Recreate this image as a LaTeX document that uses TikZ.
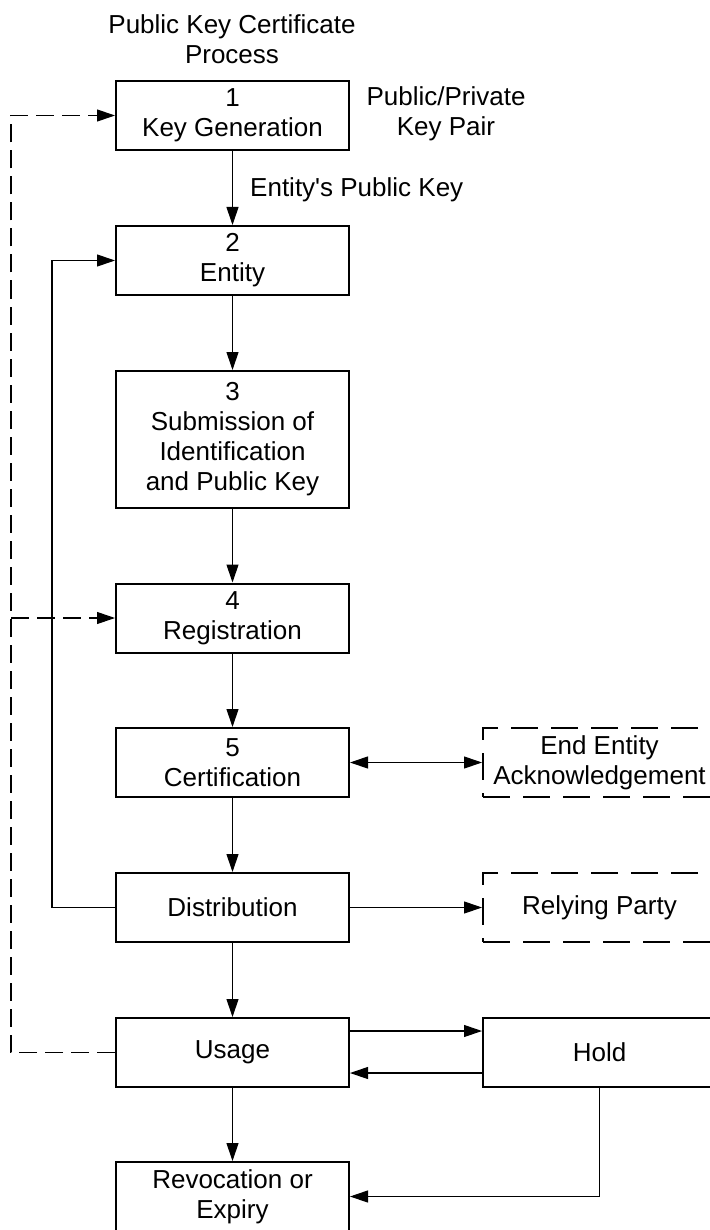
\documentclass[tikz,border=0pt]{standalone}
\usepackage{fontspec}
\setmainfont{Liberation Sans}
\usetikzlibrary{arrows.meta}
\begin{document}
\begin{tikzpicture}[x=1pt,y=-1pt,
  box/.style={draw, line width=2pt, minimum width=233pt, minimum height=69pt,
    inner sep=0pt, align=center, font=\fontsize{26}{30}\selectfont},
  tallbox/.style={box, minimum height=137pt},
  dbox/.style={box, dash pattern=on 27pt off 13pt},
  lbl/.style={align=center, inner sep=0pt, font=\fontsize{26}{30}\selectfont},
  conn/.style={line width=1.1pt, -{Triangle[length=18pt,width=12pt]}},
  dconn/.style={conn, dash pattern=on 18pt off 8pt}
]
\useasboundingbox (0,0) rectangle (709,1230);

% main process column
\node[box] (k1) at (232.5,115.5) {1\\Key Generation};
\node[box] (k2) at (232.5,260.5) {2\\Entity};
\node[tallbox] (k3) at (232.5,439.5) {3\\Submission of\\Identification\\and Public Key};
\node[box] (k4) at (232.5,618) {4\\Registration};
\node[box] (k5) at (232.5,762.5) {5\\Certification};
\node[box] (dist) at (232.5,907.5) {Distribution};
\node[box] (use) at (232.5,1052.5) {Usage};
\node[box] (rev) at (232.5,1196.5) {Revocation or\\Expiry};

% side boxes
\node[dbox] (ack) at (599.5,762.5) {End Entity\\Acknowledgement};
\node[dbox] (rely) at (599.5,907.5) {Relying Party};
\node[box] (hold) at (599.5,1052.5) {Hold};

% labels
\node[lbl] (title) at (232,39) {Public Key Certificate\\Process};
\node[lbl] (pair) at (446,114) {Public/Private\\Key Pair};
\node[lbl, anchor=west] (pk) at (250,190) {Entity\textquotesingle s Public Key};

% return rails
\coordinate (dl) at (11,0);
\coordinate (sl) at (52,0);

% main flow
\draw[conn] (k1) -- (k2);
\draw[conn] (k2) -- (k3);
\draw[conn] (k3) -- (k4);
\draw[conn] (k4) -- (k5);
\draw[conn] (k5) -- (dist);
\draw[conn] (dist) -- (use);
\draw[conn] (use) -- (rev);

% side connections
\draw[conn, {Triangle[length=18pt,width=12pt]}-{Triangle[length=18pt,width=12pt]}] (k5.east) -- (ack.west);
\draw[conn] (dist.east) -- (rely.west);
\draw[conn] ([yshift=21.5pt]use.east) -- ([yshift=21.5pt]hold.west);
\draw[conn] ([yshift=-20.5pt]hold.west) -- ([yshift=-20.5pt]use.east);
\draw[conn] (hold.south) |- (rev.east);

% distribution back to entity
\draw[conn] (dist.west) -- (dist.west -| sl) |- (k2.west);

% usage back to key generation and registration
\draw[dconn] (use.west) -- (use.west -| dl) |- (k1.west);
\draw[dconn] (k4.west -| dl) -- (k4.west);
\end{tikzpicture}
\end{document}
